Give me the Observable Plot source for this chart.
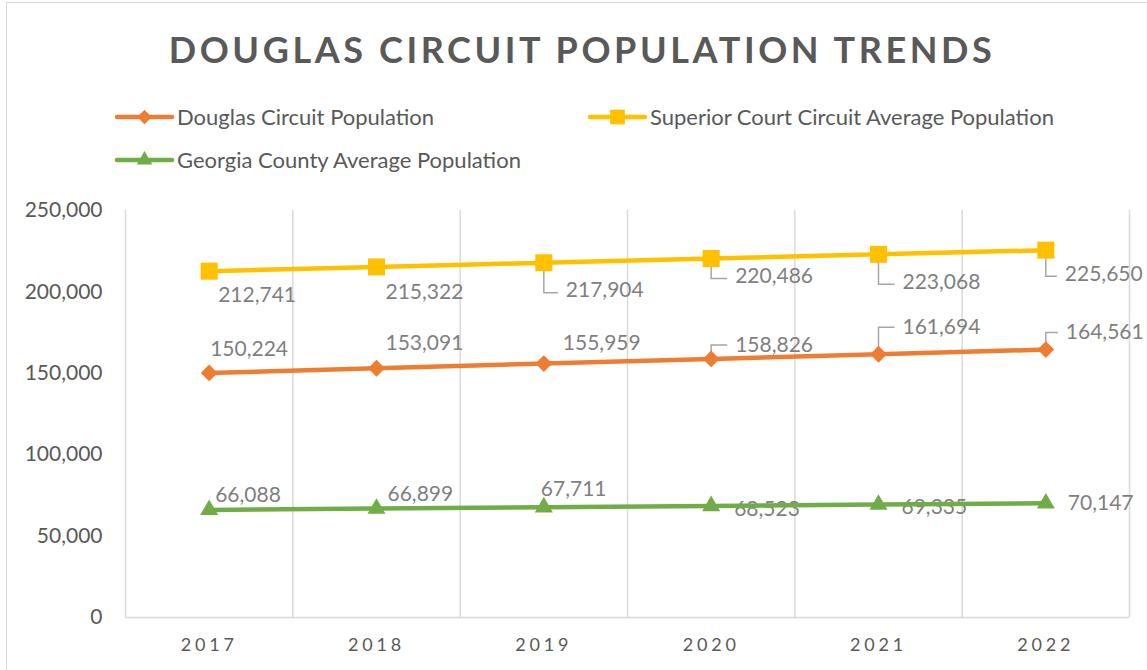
<!DOCTYPE html>
<html><head><meta charset="utf-8">
<script src="https://cdn.jsdelivr.net/npm/d3@7"></script>
<script src="https://cdn.jsdelivr.net/npm/@observablehq/plot@0.6"></script>
<style>
body{margin:0;background:#fff;}
#wrap{position:relative;width:1147px;height:670px;overflow:hidden;font-family:Lato,sans-serif;background:#fff;}
#frame{position:absolute;left:6px;top:2px;width:1200px;height:720px;border:1.5px solid #d9d9d9;}
#head{position:absolute;left:0;top:0;}
#chart{position:absolute;left:0;top:190px;}
#chart g[aria-label="x-axis tick label"] text{letter-spacing:3.8px;}
</style></head><body>
<div id="wrap"><div id="frame"></div><svg id="head" width="1147" height="190"></svg><div id="chart"></div></div>
<script>
const years = [2017, 2018, 2019, 2020, 2021, 2022];
const douglas = [150224, 153091, 155959, 158826, 161694, 164561];
const superior = [212741, 215322, 217904, 220486, 223068, 225650];
const georgia = [66088, 66899, 67711, 68523, 69335, 70147];
const seriesNames = ["Douglas Circuit Population", "Superior Court Circuit Average Population", "Georgia County Average Population"];
const yTicks = [0, 50000, 100000, 150000, 200000, 250000];
const titleText = "DOUGLAS CIRCUIT POPULATION TRENDS";

// layout only: label nudges in pixels [dx to label start, dy to label centre, leader line?]
const douglasLabelNudge = [[1,-24,0],[9,-25,0],[19,-20,0],[24,-14,1],[24,-27,1],[20,-17,1]];
const superiorLabelNudge = [[9,24,0],[9,25,0],[22,28,1],[24,18,1],[24,28,1],[19,24,1]];
const georgiaLabelNudge = [[6,-15,0],[11,-14,0],[-3,-18,0],[23,3,0],[23,3,0],[22,0,0]];

const colors = ["#ED7D31", "#FFC000", "#70AD47"];
const symbols = ["diamond2", "square", "triangle"];
const radii = [7.6, 9.6, 6.7];
const seriesValues = [douglas, superior, georgia];
const nudges = [douglasLabelNudge, superiorLabelNudge, georgiaLabelNudge];

const fmt = d3.format(",");
const gridX = years.map(y => y - 0.5).concat([years[years.length - 1] + 0.5]);

function leaderSymbol(dx, dy) {
  const hx = dx - 8;
  const vy = dy + (dy > 0 ? 2 : 0);
  return {draw(ctx) { ctx.moveTo(0, 0); ctx.lineTo(0, vy); ctx.lineTo(hx, vy); }};
}

const marks = [
  Plot.ruleX(gridX, {y1: 0, y2: 250000, stroke: "#d9d9d9", strokeWidth: 1.5}),
  Plot.ruleY([0], {stroke: "#d9d9d9", strokeWidth: 1.5}),
  Plot.axisY(yTicks, {tickFormat: fmt, tickSize: 0, tickPadding: 23, label: null, fontSize: 21, fill: "#595959"}),
  Plot.axisX(years, {tickFormat: d => String(d), tickSize: 0, tickPadding: 21, label: null, fontSize: 18, fill: "#595959"})
];

// data labels and leaders
seriesValues.forEach((vals, s) => {
  vals.forEach((v, i) => {
    const [dx, dy, leader] = nudges[s][i];
    const d = [{year: years[i], value: v}];
    if (leader) {
      marks.push(Plot.dot(d, {x: "year", y: "value", r: 5, symbol: leaderSymbol(dx, dy), fill: "none", stroke: "#a6a6a6", strokeWidth: 1.5}));
    }
    marks.push(Plot.text(d, {x: "year", y: "value", text: e => fmt(e.value), dx, dy, textAnchor: "start", fill: "#7f7f7f", fontSize: 21}));
  });
});

// lines and markers
seriesValues.forEach((vals, s) => {
  const rows = years.map((y, i) => ({year: y, value: vals[i]}));
  marks.push(Plot.line(rows, {x: "year", y: "value", stroke: colors[s], strokeWidth: 4.5}));
  marks.push(Plot.dot(rows, {x: "year", y: "value", symbol: symbols[s], r: radii[s], fill: colors[s], stroke: "none"}));
});

const chart = Plot.plot({
  width: 1147, height: 480,
  marginTop: 20, marginBottom: 53, marginLeft: 125, marginRight: 18,
  style: {fontFamily: "Lato, sans-serif", fontSize: "20px", color: "#595959", background: "transparent"},
  x: {type: "linear", domain: [2016.5, 2022.5]},
  y: {domain: [0, 250000]},
  marks
});
document.getElementById("chart").appendChild(chart);

// title and legend
const head = d3.select("#head");
head.append("text").attr("x", 582).attr("y", 63).attr("text-anchor", "middle")
  .attr("font-family", "Lato, sans-serif").attr("font-weight", 700).attr("font-size", 36)
  .attr("letter-spacing", 3.6).attr("fill", "#595959").text(titleText);

const legendPos = [[117, 117], [590, 117], [117, 160]];
const d3sym = {diamond2: d3.symbolDiamond2, square: d3.symbolSquare, triangle: d3.symbolTriangle};
seriesNames.forEach((name, s) => {
  const [lx, ly] = legendPos[s];
  const g = head.append("g");
  g.append("line").attr("x1", lx).attr("x2", lx + 55).attr("y1", ly).attr("y2", ly)
    .attr("stroke", colors[s]).attr("stroke-width", 4.5).attr("stroke-linecap", "round");
  g.append("path").attr("transform", `translate(${lx + 27.5},${ly})`)
    .attr("d", d3.symbol(d3sym[symbols[s]], Math.PI * radii[s] * radii[s] * 0.75)()).attr("fill", colors[s]);
  g.append("text").attr("x", lx + 60).attr("y", ly + 8).attr("font-family", "Lato, sans-serif")
    .attr("font-size", 22).attr("fill", "#595959").text(name);
});
</script>
</body></html>
